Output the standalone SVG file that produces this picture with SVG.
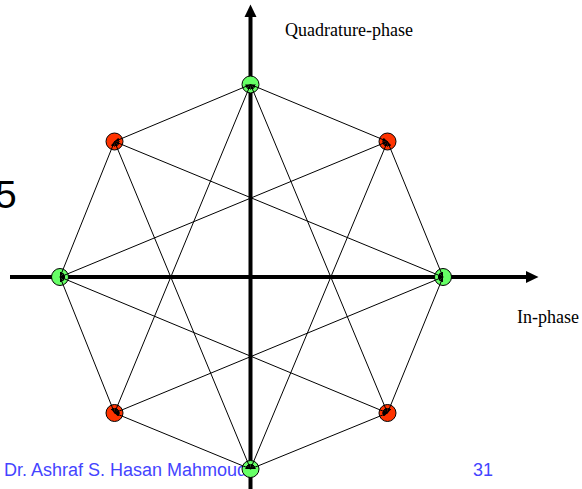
<svg xmlns="http://www.w3.org/2000/svg" width="582" height="489" viewBox="0 0 582 489">
<style>
.axis{stroke:#000;stroke-width:4;fill:none}
.link{stroke:#000;stroke-width:1;fill:none;marker-start:url(#tip);marker-end:url(#tip)}
.pt{stroke:#000;stroke-width:1}
.g{fill:#66FF66}
.r{fill:#FF3300}
.lbl{font-family:"Liberation Serif",serif;font-size:18px;fill:#000}
.foot{font-family:"Liberation Sans",sans-serif;font-size:18px;fill:#4444FF}
</style>
<defs>
<marker id="tip" markerUnits="userSpaceOnUse" markerWidth="5" markerHeight="4" refX="5" refY="2" orient="auto-start-reverse">
<path d="M0,0 L5,2 L0,4 z" fill="#000"/>
</marker>
</defs>
<text x="-5" y="208" font-family="Liberation Sans, sans-serif" font-size="39" fill="#000">5</text>
<g id="axes">
<line class="axis" x1="10" y1="277" x2="530" y2="277"/>
<path d="M526,271 L538.5,277 L526,283 z" fill="#000"/>
<line class="axis" x1="250.5" y1="489" x2="250.5" y2="14"/>
<path d="M244.5,17 L250.5,4.5 L256.5,17 z" fill="#000"/>
</g>
<text class="lbl" x="285" y="36">Quadrature-phase</text>
<text class="lbl" x="517" y="323">In-phase</text>
<text class="foot" x="4" y="476">Dr. Ashraf S. Hasan Mahmoud</text>
<text class="foot" x="473" y="476">31</text>
<g id="n-top"><circle class="pt g" cx="250.5" cy="84.5" r="8.5"/></g>
<g id="n-topright"><circle class="pt r" cx="387.5" cy="141.5" r="8.5"/></g>
<g id="n-right"><circle class="pt g" cx="443" cy="277" r="8.5"/></g>
<g id="n-bottomright"><circle class="pt r" cx="387.5" cy="413" r="8.5"/></g>
<g id="n-bottom"><circle class="pt g" cx="250.5" cy="469" r="8.5"/></g>
<g id="n-bottomleft"><circle class="pt r" cx="114.5" cy="413" r="8.5"/></g>
<g id="n-left"><circle class="pt g" cx="60" cy="277" r="8.5"/></g>
<g id="n-topleft"><circle class="pt r" cx="114.5" cy="141.5" r="8.5"/></g>
<g id="connectors">
<line class="link" x1="250.5" y1="84.5" x2="387.5" y2="141.5"/>
<line class="link" x1="387.5" y1="141.5" x2="443" y2="277"/>
<line class="link" x1="443" y1="277" x2="387.5" y2="413"/>
<line class="link" x1="387.5" y1="413" x2="250.5" y2="469"/>
<line class="link" x1="250.5" y1="469" x2="114.5" y2="413"/>
<line class="link" x1="114.5" y1="413" x2="60" y2="277"/>
<line class="link" x1="60" y1="277" x2="114.5" y2="141.5"/>
<line class="link" x1="114.5" y1="141.5" x2="250.5" y2="84.5"/>
<line class="link" x1="250.5" y1="84.5" x2="387.5" y2="413"/>
<line class="link" x1="250.5" y1="84.5" x2="114.5" y2="413"/>
<line class="link" x1="387.5" y1="141.5" x2="250.5" y2="469"/>
<line class="link" x1="387.5" y1="141.5" x2="60" y2="277"/>
<line class="link" x1="443" y1="277" x2="114.5" y2="413"/>
<line class="link" x1="443" y1="277" x2="114.5" y2="141.5"/>
<line class="link" x1="387.5" y1="413" x2="60" y2="277"/>
<line class="link" x1="250.5" y1="469" x2="114.5" y2="141.5"/>
</g>
</svg>
